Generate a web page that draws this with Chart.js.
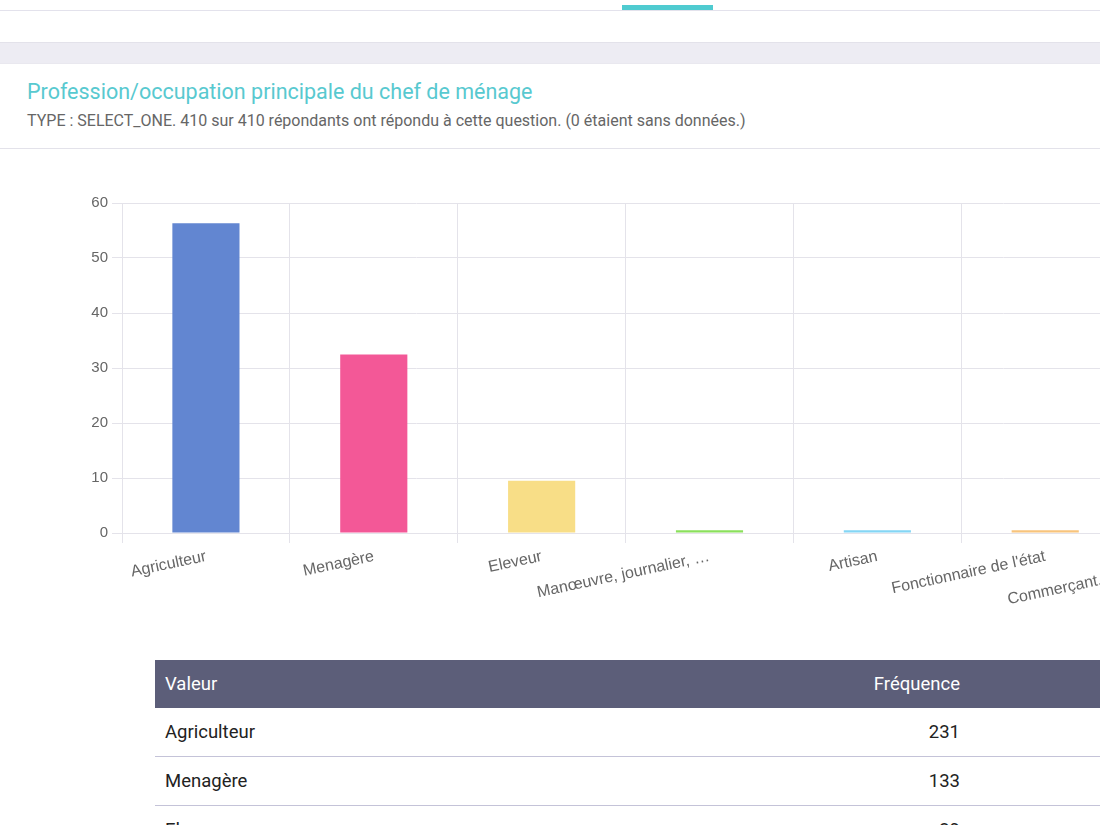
<!DOCTYPE html>
<html lang="fr">
<head>
<meta charset="utf-8">
<title>Profession/occupation principale du chef de ménage</title>
<script src="https://cdn.jsdelivr.net/npm/chart.js@4/dist/chart.umd.min.js"></script>
<style>
    html, body {
        margin: 0;
        padding: 0;
        width: 1100px;
        height: 825px;
        overflow: hidden;
        background: #fff;
        font-family: Roboto, 'Noto Sans', sans-serif;
    }
    .topbar {
        position: absolute; left: 0; top: 0; width: 1100px; height: 10px;
        border-bottom: 1px solid #e3e2ec;
    }
    .tab-active {
        position: absolute; left: 622px; top: 5px; width: 91px; height: 5px;
        background: #4fcbd0;
    }
    .band {
        position: absolute; left: 0; top: 42px; width: 1100px; height: 20px;
        background: #edecf3;
        border-top: 1px solid #e3e2ea;
        border-bottom: 1px solid #e9e8ef;
    }
    .title {
        position: absolute; left: 27px; top: 79px;
        font-size: 21.5px; color: #58c9d0; white-space: nowrap;
    }
    .subtitle {
        position: absolute; left: 27px; top: 111px;
        font-size: 16px; color: #666; white-space: nowrap;
    }
    .sep {
        position: absolute; left: 0; top: 148px; width: 1100px; height: 1px;
        background: #e3e2ea;
    }
    #chartBox {
        position: absolute; left: 60px; top: 190px;
    }
    table {
        position: absolute; left: 155px; top: 660px; width: 1200px;
        border-collapse: collapse; table-layout: fixed;
        font-size: 18.5px; color: #222;
    }
    th {
        background: #5c5e79; color: #fff; font-weight: 400;
        height: 48px; text-align: left; padding: 0 10px;
    }
    td {
        height: 48px; padding: 0 10px; border-bottom: 1px solid #c4c3d8;
    }
    .c1 { width: 685px; }
    .c2 { width: 120px; }
    .num { text-align: right; padding-right: 0; }
</style>
</head>
<body>
<div class="topbar"></div>
<div class="tab-active"></div>
<div class="band"></div>
<div class="title">Profession/occupation principale du chef de ménage</div>
<div class="subtitle">TYPE : SELECT_ONE. 410 sur 410 répondants ont répondu à cette question. (0 étaient sans données.)</div>
<div class="sep"></div>

<div id="chartBox">
    <canvas id="profChart" width="1243" height="430"></canvas>
</div>

<table>
    <colgroup><col class="c1"><col class="c2"><col></colgroup>
    <thead>
        <tr><th>Valeur</th><th class="num">Fréquence</th><th></th></tr>
    </thead>
    <tbody id="freqBody"></tbody>
</table>

<script>
const categories = [
    'Agriculteur',
    'Menagère',
    'Eleveur',
    'Manœuvre, journalier, …',
    'Artisan',
    "Fonctionnaire de l'état",
    'Commerçant, petit commerce'
];
const percentages = [56.34, 32.44, 9.51, 0.49, 0.49, 0.49, 0.24];
const frequencies = [231, 133, 39, 2, 2, 2, 1];
const yTicks = [0, 10, 20, 30, 40, 50, 60];

const barColors = ['#6286d1', '#f35897', '#f8de87', '#8be05c', '#84d6f5', '#f8c47c', '#e98ae9'];

const gridColor = '#e4e3ea';
const fontFamily = "'Helvetica Neue', Helvetica, Arial, 'Liberation Sans', sans-serif";

const ctx = document.getElementById('profChart').getContext('2d');
const profChart = new Chart(ctx, {
    type: 'bar',
    data: {
        labels: categories,
        datasets: [{
            data: percentages,
            backgroundColor: barColors,
            borderWidth: 0,
            barPercentage: 0.5,
            categoryPercentage: 0.8
        }]
    },
    options: {
        responsive: false,
        animation: false,
        layout: {
            padding: { top: 13, right: 6, left: 0, bottom: 0 }
        },
        plugins: {
            legend: { display: false },
            tooltip: { enabled: false }
        },
        scales: {
            y: {
                min: 0,
                max: 60,
                afterFit: function (scale) { scale.width = 62; },
                afterBuildTicks: function (scale) {
                    scale.ticks = yTicks.map(v => ({ value: v }));
                },
                grid: { color: gridColor, tickLength: 10 },
                border: { color: gridColor },
                ticks: { color: '#666', font: { family: fontFamily, size: 15 }, padding: 4 }
            },
            x: {
                afterFit: function (scale) { scale.height = 87; },
                grid: { color: gridColor, tickLength: 10, offset: true },
                border: { color: gridColor },
                ticks: {
                    color: '#666',
                    font: { family: fontFamily, size: 16 },
                    autoSkip: false,
                    minRotation: 12,
                    maxRotation: 12,
                    padding: 4
                }
            }
        }
    }
});

// Frequency table
const tbody = document.getElementById('freqBody');
categories.forEach((cat, i) => {
    const tr = document.createElement('tr');
    tr.innerHTML = '<td>' + cat + '</td><td class="num">' + frequencies[i] + '</td><td></td>';
    tbody.appendChild(tr);
});
</script>
</body>
</html>
